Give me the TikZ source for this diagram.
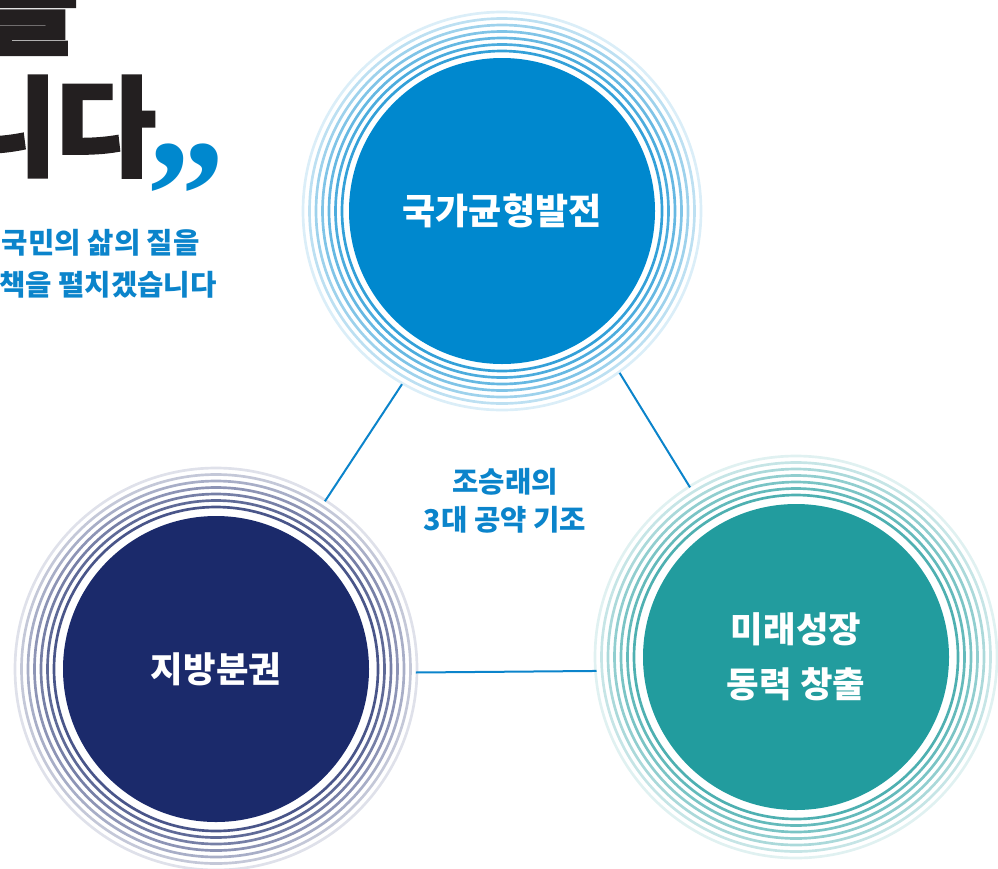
\documentclass[tikz,border=0pt]{standalone}
\usepackage{fontspec}
\usepackage{tikz}
\newfontfamily\krfont{Noto Sans CJK KR}
\newfontfamily\krheavy{Noto Sans CJK KR}[BoldFeatures={FakeBold=2.5}]
\newfontfamily\quotefont{Liberation Serif}
\definecolor{balblue}{HTML}{0088CE}
\definecolor{locnavy}{HTML}{1B2A6B}
\definecolor{futteal}{HTML}{229C9E}
\definecolor{pledgeblue}{HTML}{0B84CB}
\definecolor{headblack}{HTML}{231F20}

\begin{document}
\begin{tikzpicture}[x=0.75pt, y=-0.75pt]
	\tikzstyle{pledge}=[circle, draw=none, minimum size=229.5pt, inner sep=0pt, outer sep=35.25pt, text=white, align=center, font=\krfont\bfseries\fontsize{26.5}{41}\selectfont]
	\tikzstyle{ring}=[line width=2pt]
	\tikzstyle{link}=[line width=1.5pt, pledgeblue]
	\clip (0,0) rectangle (998,868);
	%%% HEADLINE %%%
	%big black lines
	\node[anchor=base east, inner sep=0pt, headblack, font=\krheavy\bfseries\fontsize{81}{81}\selectfont] (headtop) at (79,45) {을};
	\node[anchor=base east, inner sep=0pt, headblack, font=\krheavy\bfseries\fontsize{81}{81}\selectfont] (headbot) at (156,167) {니다};
	%closing quote
	\node[inner sep=0pt, balblue, font=\quotefont\bfseries\fontsize{118}{118}\selectfont] (quote) at (186,196) {”};
	%blue subtitle
	\node[anchor=east, inner sep=0pt, pledgeblue, font=\krfont\bfseries\fontsize{21.5}{21.5}\selectfont] (subone) at (200,243) {국민의 삶의 질을};
	\node[anchor=east, inner sep=0pt, pledgeblue, font=\krfont\bfseries\fontsize{21.5}{21.5}\selectfont] (subtwo) at (217,285) {책을 펼치겠습니다};
	%%% TOP CIRCLE %%%
	\node[pledge, fill=balblue, font=\krfont\bfseries\fontsize{27}{41}\selectfont] (balance) at (502,211) {국가균형발전};
	\foreach \r/\p in {160/80,166.5/70,173/60,179.5/50,186/38,192.5/26,199/14}
		\draw[ring, balblue!\p!white] (balance.center) circle (\r);
	%%% LEFT CIRCLE %%%
	\node[pledge, fill=locnavy] (local) at (216,669) {지방분권};
	\foreach \r/\p in {162/80,168.5/70,175/60,181.5/50,188/38,194.5/26,201/14}
		\draw[ring, locnavy!\p!white] (local.center) circle (\r);
	%%% RIGHT CIRCLE %%%
	\node[pledge, fill=futteal] (future) at (796,657) {미래성장\\동력 창출};
	\foreach \r/\p in {162/80,168.5/70,175/60,181.5/50,188/38,194.5/26,201/14}
		\draw[ring, futteal!\p!white] (future.center) circle (\r);
	%centre label
	\node[inner sep=0pt, pledgeblue, align=center, font=\krfont\bfseries\fontsize{21.5}{28.5}\selectfont] (basis) at (505,501) {조승래의\\3대 공약 기조};
	%links between circles
	\draw[link] (balance.240) -- (local.57);
	\draw[link] (balance.306) -- (future.122);
	\draw[link] (local.-1) -- (future.184.5);
\end{tikzpicture}
\end{document}
